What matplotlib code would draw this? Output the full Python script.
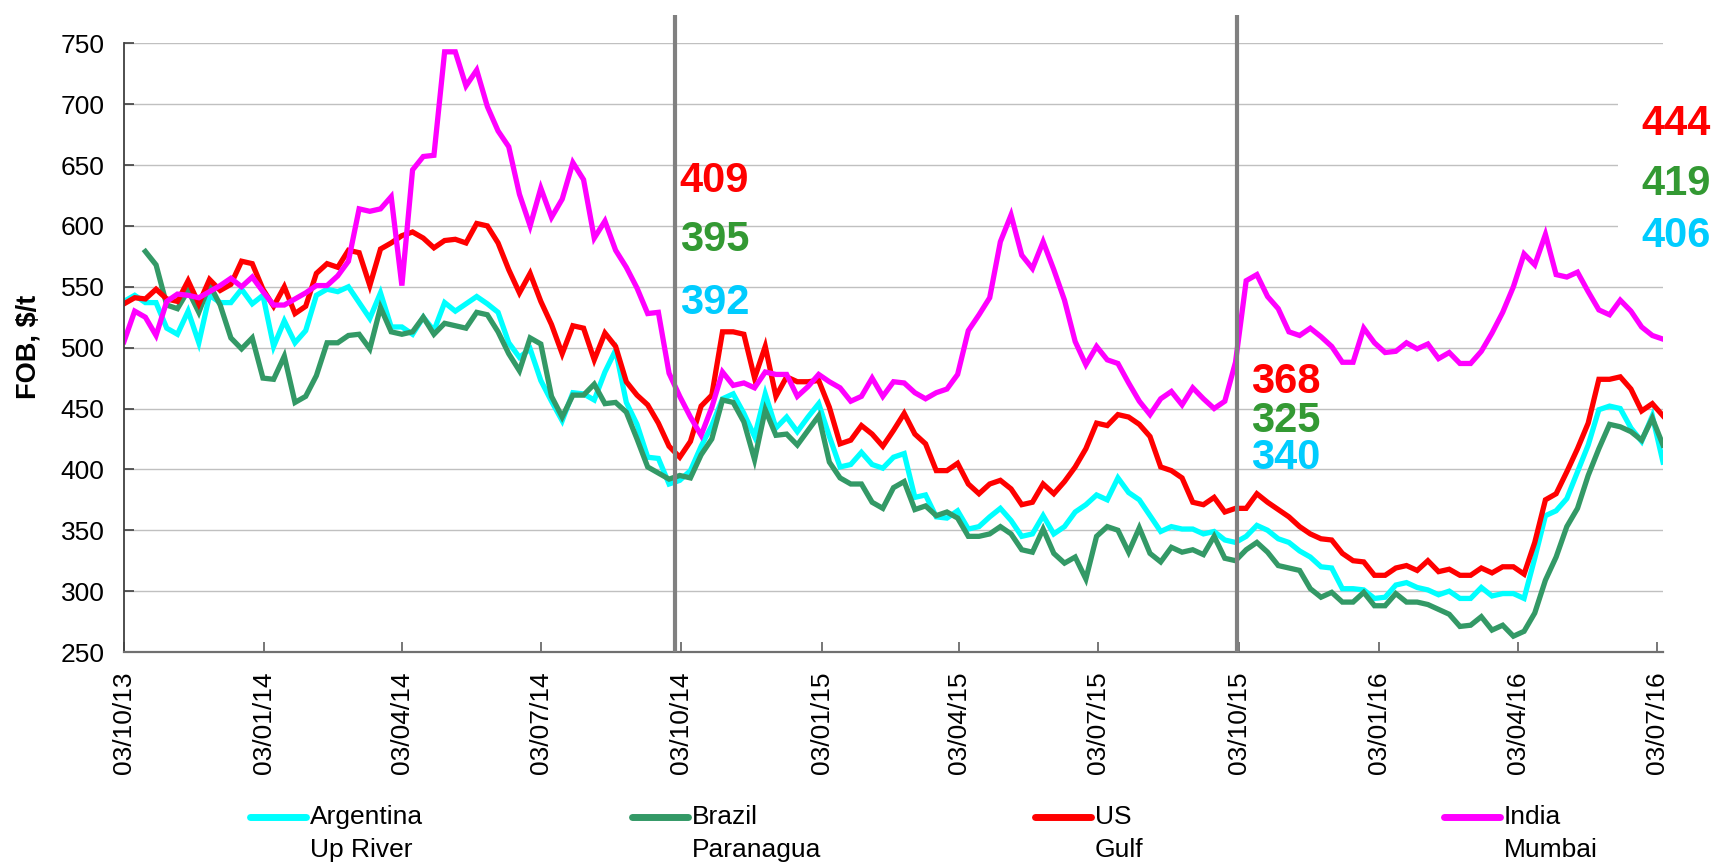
import matplotlib
matplotlib.use("Agg")
import matplotlib.pyplot as plt
import matplotlib.dates as mdates
import matplotlib.transforms as mtransforms
from matplotlib.lines import Line2D
from matplotlib.patches import Rectangle
import numpy as np
import pandas as pd

plt.rcParams["font.family"] = ["Liberation Sans", "DejaVu Sans"]

# weekly FOB prices, $/t, first week 03/10/13
start_date = "2013-10-03"

argentina = [
    538, 543, 537, 537, 516, 511, 530, 504, 543, 537, 537, 548, 536, 543, 501, 522,
    504, 514, 543, 548, 546, 550, 537, 524, 545, 517, 517, 511, 525, 514, 537, 530,
    536, 542, 536, 529, 504, 492, 499, 473, 456, 440, 463, 462, 457, 480, 498, 455,
    437, 410, 409, 388, 391, 399, 419, 436, 458, 462, 446, 427, 462, 434, 443, 431,
    443, 454, 427, 402, 404, 414, 404, 401, 410, 413, 377, 379, 361, 360, 366, 351,
    353, 361, 368, 358, 345, 347, 362, 347, 353, 365, 371, 379, 375, 393, 381, 375,
    362, 349, 353, 351, 351, 347, 349, 342, 340, 345, 354, 350, 343, 340, 333, 328,
    320, 319, 302, 302, 301, 294, 295, 305, 307, 303, 301, 297, 300, 294, 294, 303,
    296, 298, 298, 294, 327, 362, 366, 376, 398, 420, 449, 452, 450, 434, 423, 444,
    406,
]

brazil = [
    np.nan, np.nan, 579, 568, 535, 532, 547, 529, 552, 535, 508, 499, 508, 475, 474, 493,
    455, 460, 477, 504, 504, 510, 511, 499, 533, 513, 511, 513, 525, 511, 520, 518,
    516, 529, 527, 513, 495, 481, 508, 503, 460, 443, 461, 461, 470, 454, 455, 447,
    425, 402, 397, 392, 395, 393, 412, 425, 457, 455, 439, 408, 449, 428, 429, 420,
    432, 444, 406, 393, 388, 388, 373, 368, 385, 390, 367, 370, 362, 365, 360, 345,
    345, 347, 353, 347, 334, 332, 351, 331, 323, 328, 310, 345, 353, 350, 332, 352,
    331, 324, 336, 332, 334, 330, 345, 327, 325, 334, 340, 332, 321, 319, 317, 302,
    295, 299, 291, 291, 299, 288, 288, 298, 291, 291, 289, 285, 281, 271, 272, 279,
    268, 272, 263, 267, 282, 309, 328, 353, 368, 395, 417, 437, 435, 431, 424, 442,
    420,
]

us_gulf = [
    536, 541, 540, 548, 540, 538, 555, 536, 556, 547, 552, 571, 569, 548, 534, 550,
    528, 534, 561, 569, 566, 580, 578, 551, 581, 586, 592, 595, 590, 582, 588, 589,
    586, 602, 600, 586, 564, 545, 561, 538, 519, 495, 518, 516, 490, 512, 501, 472,
    461, 453, 438, 419, 410, 423, 452, 461, 513, 513, 511, 475, 501, 460, 476, 472,
    472, 473, 451, 421, 424, 436, 429, 419, 432, 446, 429, 421, 399, 399, 405, 388,
    380, 388, 391, 384, 371, 373, 388, 380, 390, 402, 417, 438, 436, 445, 443, 437,
    427, 402, 399, 393, 373, 371, 377, 365, 368, 368, 380, 373, 367, 361, 353, 347,
    343, 342, 331, 325, 324, 313, 313, 319, 321, 317, 325, 316, 318, 313, 313, 319,
    315, 320, 320, 314, 340, 375, 380, 398, 417, 438, 474, 474, 476, 466, 448, 454,
    444,
]

india = [
    505, 530, 525, 510, 538, 544, 543, 541, 546, 551, 557, 550, 558, 546, 535, 535,
    540, 545, 551, 551, 559, 571, 614, 612, 614, 624, 551, 646, 657, 658, 743, 743,
    715, 728, 698, 678, 665, 626, 600, 631, 607, 622, 652, 638, 590, 604, 580, 566,
    549, 528, 529, 479, 460, 443, 428, 451, 480, 469, 471, 467, 480, 478, 478, 460,
    468, 478, 472, 467, 456, 460, 475, 460, 472, 471, 463, 458, 463, 466, 478, 514,
    527, 541, 587, 609, 576, 565, 587, 564, 539, 505, 486, 501, 490, 487, 471, 456,
    445, 458, 464, 453, 467, 458, 450, 456, 488, 555, 560, 542, 532, 513, 510, 516,
    509, 501, 488, 488, 516, 504, 496, 497, 504, 499, 503, 491, 496, 487, 487, 497,
    512, 529, 550, 577, 568, 593, 560, 558, 562, 546, 531, 527, 539, 530, 517, 510,
    507,
]

series_labels = ["Argentina\nUp River", "Brazil\nParanagua", "US\nGulf", "India\nMumbai"]
line_colors = ["#00FFFF", "#339966", "#FF0000", "#FF00FF"]

tick_dates = ["03/10/13", "03/01/14", "03/04/14", "03/07/14", "03/10/14", "03/01/15",
              "03/04/15", "03/07/15", "03/10/15", "03/01/16", "03/04/16", "03/07/16"]

marker_dates = ["2014-09-29", "2015-10-02"]

# values written at the marker lines and at the last week
ann_text = ["409", "395", "392", "368", "325", "340", "444", "419", "406"]
ann_colors = ["#FF0000", "#339933", "#00CCFF"] * 3
ann_x = ["2014-10-02"] * 3 + ["2015-10-11"] * 3 + ["2016-06-23"] * 3
ann_y = [628, 579, 528, 463, 431, 400, 675, 625, 583]

W, H = 1713, 863
fig = plt.figure(figsize=(W / 100, H / 100), dpi=100)
ax = fig.add_axes([124 / W, 1 - 652 / H, 1539 / W, (652 - 43.3) / H])

dates = pd.date_range(start_date, periods=len(us_gulf), freq="7D")
for vals, lab, col in zip([argentina, brazil, us_gulf, india], series_labels, line_colors):
    ax.plot(dates, vals, color=col, lw=3.8, solid_joinstyle="miter", label=lab)

for d in marker_dates:
    d = pd.Timestamp(d)
    ax.plot([d, d], [250, 773], color="#808080", lw=3.0, clip_on=False, zorder=3,
            solid_capstyle="butt")

# white box behind the last values (hides grid lines there)
tr = mtransforms.blended_transform_factory(ax.transAxes, ax.transData)
ax.add_patch(Rectangle(((1618 - 124) / 1539, 576), 0.05, 132, transform=tr,
                       facecolor="white", edgecolor="none", zorder=1.5, clip_on=False))

for t, c, x, y in zip(ann_text, ann_colors, ann_x, ann_y):
    ax.text(pd.Timestamp(x), y, t, color=c, fontsize=30, fontweight="bold",
            ha="left", va="baseline", zorder=4)

ax.set_ylim(250, 750)
ax.set_yticks(np.arange(250, 751, 50))
ax.set_xlim(dates[0], dates[-1])
ax.set_xticks([pd.to_datetime(s, format="%d/%m/%y") for s in tick_dates])
ax.xaxis.set_major_formatter(mdates.DateFormatter("%d/%m/%y"))
ax.tick_params(axis="x", direction="in", length=7, width=1.2, color="#606060",
               labelsize=19, pad=14, labelrotation=90)
ax.tick_params(axis="y", direction="in", length=7, width=1.2, color="#404040",
               labelsize=19, pad=14)
ax.yaxis.grid(True, color="#C0C0C0", lw=1.0)
ax.set_axisbelow(True)
for s in ["top", "right"]:
    ax.spines[s].set_visible(False)
ax.spines["left"].set_color("#404040")
ax.spines["left"].set_linewidth(1.3)
ax.spines["bottom"].set_color("#707070")
ax.spines["bottom"].set_linewidth(1.6)

fig.text(28 / W, 1 - 347 / H, "FOB, $/t", rotation=90, ha="center", va="center",
         fontsize=19.5, fontweight="bold")

# legend drawn below the axis: handle then two-line label
leg_x = [250, 632, 1035, 1444]
for x0, lab, col in zip(leg_x, series_labels, line_colors):
    fig.add_artist(Line2D([x0 / W, (x0 + 56) / W], [1 - 817 / H] * 2, color=col, lw=5,
                          solid_capstyle="round"))
    fig.text((x0 + 60) / W, 1 - 805 / H, lab, fontsize=19, va="top", ha="left",
             linespacing=1.45)

fig.savefig("out.png", dpi=100)
